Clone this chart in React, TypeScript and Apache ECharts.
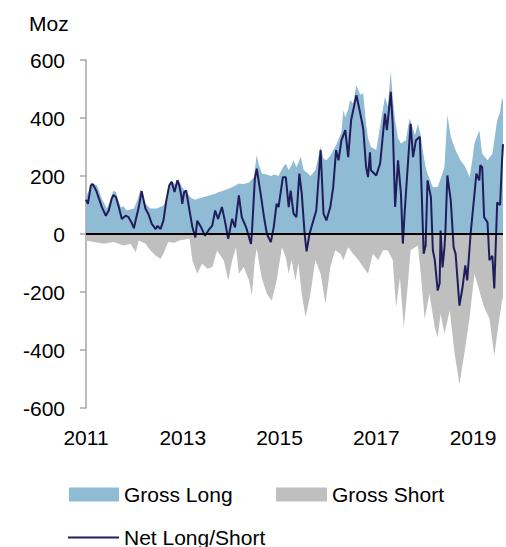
import React, { useEffect, useRef } from "react";
import * as echarts from "echarts";

const netYears = [2011.0,2011.04,2011.1,2011.14,2011.21,2011.27,2011.33,2011.41,2011.47,2011.53,2011.57,2011.62,2011.68,2011.74,2011.82,2011.88,2011.94,2011.99,2012.03,2012.09,2012.15,2012.23,2012.29,2012.36,2012.44,2012.48,2012.54,2012.6,2012.66,2012.72,2012.77,2012.83,2012.89,2012.93,2012.97,2012.99,2013.03,2013.07,2013.14,2013.2,2013.26,2013.3,2013.38,2013.46,2013.55,2013.61,2013.67,2013.73,2013.81,2013.87,2013.94,2014.02,2014.08,2014.16,2014.22,2014.31,2014.41,2014.43,2014.49,2014.53,2014.61,2014.68,2014.74,2014.82,2014.88,2014.94,2014.98,2015.07,2015.13,2015.19,2015.23,2015.29,2015.35,2015.41,2015.46,2015.52,2015.56,2015.62,2015.68,2015.76,2015.85,2015.91,2015.97,2016.05,2016.11,2016.17,2016.22,2016.28,2016.36,2016.42,2016.48,2016.59,2016.67,2016.73,2016.79,2016.83,2016.87,2016.89,2017.0,2017.08,2017.18,2017.22,2017.3,2017.34,2017.39,2017.45,2017.51,2017.55,2017.59,2017.65,2017.71,2017.76,2017.82,2017.9,2017.94,2017.98,2018.02,2018.06,2018.13,2018.17,2018.21,2018.27,2018.31,2018.33,2018.37,2018.41,2018.43,2018.47,2018.54,2018.6,2018.64,2018.72,2018.78,2018.84,2018.88,2018.95,2019.03,2019.07,2019.13,2019.15,2019.19,2019.23,2019.3,2019.34,2019.4,2019.44,2019.5,2019.56,2019.6,2019.62];
const netValues = [118,104,167,172,150,121,92,63,81,121,135,127,92,52,63,58,40,20,50,92,148,87,69,35,17,28,17,46,115,167,180,145,185,165,132,104,145,150,81,23,-12,46,23,-6,17,29,81,52,93,46,-17,52,23,133,58,23,-34,6,190,225,139,58,0,-28,23,104,93,196,196,93,150,70,58,208,139,0,-60,0,35,81,289,70,47,93,162,289,254,323,358,265,392,479,415,364,231,196,282,220,202,243,415,358,490,380,93,254,139,-33,82,231,380,265,323,335,139,-68,-40,185,127,-56,-90,-195,-170,12,-115,-46,12,202,116,-46,-68,-247,-188,-108,-160,0,138,208,185,237,230,58,40,-90,-75,-188,109,100,254,310];

const longYears = [2011.0,2011.06,2011.1,2011.16,2011.23,2011.33,2011.43,2011.49,2011.53,2011.57,2011.62,2011.66,2011.72,2011.78,2011.84,2011.9,2011.99,2012.07,2012.13,2012.17,2012.23,2012.33,2012.46,2012.6,2012.66,2012.7,2012.77,2012.85,2012.91,2012.99,2013.07,2013.18,2013.26,2013.34,2013.44,2013.55,2013.65,2013.75,2013.85,2013.96,2014.06,2014.16,2014.26,2014.37,2014.47,2014.53,2014.57,2014.64,2014.74,2014.82,2014.9,2014.98,2015.07,2015.13,2015.19,2015.25,2015.29,2015.35,2015.44,2015.5,2015.58,2015.64,2015.74,2015.85,2015.91,2015.97,2016.05,2016.11,2016.17,2016.28,2016.32,2016.36,2016.42,2016.46,2016.52,2016.59,2016.67,2016.73,2016.79,2016.83,2016.89,2017.0,2017.1,2017.18,2017.24,2017.3,2017.34,2017.39,2017.45,2017.51,2017.61,2017.69,2017.8,2017.86,2017.92,2017.98,2018.02,2018.06,2018.17,2018.27,2018.35,2018.41,2018.47,2018.54,2018.64,2018.74,2018.84,2018.93,2018.99,2019.03,2019.13,2019.19,2019.3,2019.4,2019.5,2019.56,2019.6,2019.62];
const longValues = [127,150,178,172,167,121,88,110,133,150,144,120,92,95,81,84,88,120,155,130,104,88,88,98,120,150,184,170,190,160,145,123,118,123,128,133,138,145,150,157,165,174,172,178,196,272,240,208,205,200,205,200,230,242,220,237,254,230,266,220,210,200,220,300,260,254,270,289,306,351,427,403,430,462,450,512,480,485,380,330,300,290,392,473,440,562,470,392,330,312,323,399,341,380,340,270,231,208,162,162,200,231,410,335,289,254,231,196,260,312,358,277,254,277,392,420,468,460];

const shortYears = [2011.0,2011.16,2011.37,2011.57,2011.78,2011.92,2012.03,2012.09,2012.23,2012.33,2012.44,2012.54,2012.6,2012.7,2012.83,2012.93,2013.14,2013.2,2013.3,2013.4,2013.51,2013.61,2013.71,2013.85,2013.94,2014.02,2014.1,2014.16,2014.26,2014.37,2014.43,2014.49,2014.53,2014.63,2014.74,2014.84,2014.94,2015.05,2015.13,2015.19,2015.25,2015.33,2015.39,2015.46,2015.54,2015.64,2015.74,2015.85,2015.95,2016.05,2016.15,2016.26,2016.32,2016.42,2016.52,2016.63,2016.73,2016.83,2016.93,2017.04,2017.14,2017.24,2017.34,2017.41,2017.49,2017.57,2017.65,2017.71,2017.86,2017.92,2018.0,2018.1,2018.21,2018.27,2018.33,2018.41,2018.52,2018.62,2018.72,2018.82,2018.93,2019.03,2019.13,2019.23,2019.34,2019.44,2019.5,2019.6,2019.62];
const shortValues = [-22,-28,-34,-28,-40,-34,-63,-22,-34,-57,-74,-86,-68,-28,-30,-22,-16,-92,-137,-102,-120,-114,-57,-92,-160,-92,-46,-137,-114,-160,-212,-90,-50,-150,-207,-230,-160,-46,-80,-137,-90,-160,-100,-207,-287,-207,-90,-137,-241,-114,-56,-68,-90,-46,-68,-90,-114,-137,-68,-90,-56,-56,-90,-253,-150,-322,-180,-56,-40,-137,-292,-207,-322,-357,-275,-344,-264,-413,-517,-413,-287,-137,-195,-253,-292,-420,-344,-229,-220];

const yTicks = [-600, -400, -200, 0, 200, 400, 600];
const xLabelYears = [2011, 2013, 2015, 2017, 2019];
const seriesNames = ["Gross Long", "Gross Short", "Net Long/Short"];

const BLUE = "#8fbbd4";
const GREY = "#bfbfbf";
const NAVY = "#211c5c";
const FONT = "Liberation Sans";

const pairs = (xs: number[], ys: number[]) => xs.map((x, i) => [x, ys[i]]);

export default function App() {
  const ref = useRef<HTMLDivElement>(null);
  useEffect(() => {
    if (!ref.current) return;
    const chart = echarts.init(ref.current, undefined, { renderer: "svg" });
    const legendText = { fontFamily: FONT, fontSize: 21, color: "#000" };
    chart.setOption({
      animation: false,
      grid: { left: 86, top: 60, width: 420, height: 348, containLabel: false },
      xAxis: {
        type: "value",
        min: 2011,
        max: 2019.62,
        interval: 2,
        axisLine: { show: false },
        axisTick: { show: false },
        splitLine: { show: false },
        axisLabel: {
          margin: 19,
          fontFamily: FONT,
          fontSize: 21,
          color: "#000",
          formatter: (v: number) => {
            const r = Math.round(v);
            return Math.abs(v - r) < 1e-6 && xLabelYears.includes(r) ? String(r) : "";
          },
        },
      },
      yAxis: {
        type: "value",
        min: yTicks[0],
        max: yTicks[yTicks.length - 1],
        interval: 200,
        axisLine: { show: true, lineStyle: { color: "#a6a6a6", width: 1.5 } },
        axisTick: { show: true, length: 6, lineStyle: { color: "#a6a6a6", width: 1.5 } },
        splitLine: { show: false },
        axisLabel: { margin: 21, fontFamily: FONT, fontSize: 21, color: "#000" },
      },
      legend: [
        {
          data: [{ name: seriesNames[0], icon: "rect" }],
          left: 69, top: 484, padding: 0, itemWidth: 50, itemHeight: 14, itemGap: 0,
          textStyle: legendText, selectedMode: false,
        },
        {
          data: [{ name: seriesNames[1], icon: "rect" }],
          left: 276, top: 484, padding: 0, itemWidth: 51, itemHeight: 14, itemGap: 0,
          textStyle: legendText, selectedMode: false,
        },
        {
          data: [{ name: seriesNames[2], icon: "path://M0,0 L50,0 L50,2 L0,2 Z" }],
          left: 68, top: 527, padding: 0, itemWidth: 51, itemHeight: 14, itemGap: 0,
          textStyle: legendText, selectedMode: false,
        },
      ],
      graphic: [
        {
          type: "text",
          left: 29,
          top: 13,
          style: { text: "Moz", fontFamily: FONT, fontSize: 21, fill: "#000" },
        },
      ],
      series: [
        {
          name: seriesNames[0],
          type: "line",
          data: pairs(longYears, longValues),
          showSymbol: false,
          symbol: "none",
          color: BLUE,
          lineStyle: { width: 0, color: BLUE },
          areaStyle: { color: BLUE, opacity: 1 },
          z: 1,
          silent: true,
        },
        {
          name: seriesNames[1],
          type: "line",
          data: pairs(shortYears, shortValues),
          showSymbol: false,
          symbol: "none",
          color: GREY,
          lineStyle: { width: 0, color: GREY },
          areaStyle: { color: GREY, opacity: 1 },
          z: 2,
          silent: true,
          markLine: {
            silent: true,
            symbol: "none",
            label: { show: false },
            lineStyle: { color: "#000", width: 2, type: "solid" },
            data: [{ yAxis: 0 }],
          },
        },
        {
          name: seriesNames[2],
          type: "line",
          data: pairs(netYears, netValues),
          showSymbol: false,
          symbol: "none",
          color: NAVY,
          lineStyle: { width: 2, color: NAVY },
          z: 4,
          silent: true,
        },
      ],
    });
    return () => chart.dispose();
  }, []);
  return (
    <div
      ref={ref}
      style={{ position: "absolute", left: 0, top: 0, width: 506, height: 547, background: "#fff" }}
    />
  );
}
